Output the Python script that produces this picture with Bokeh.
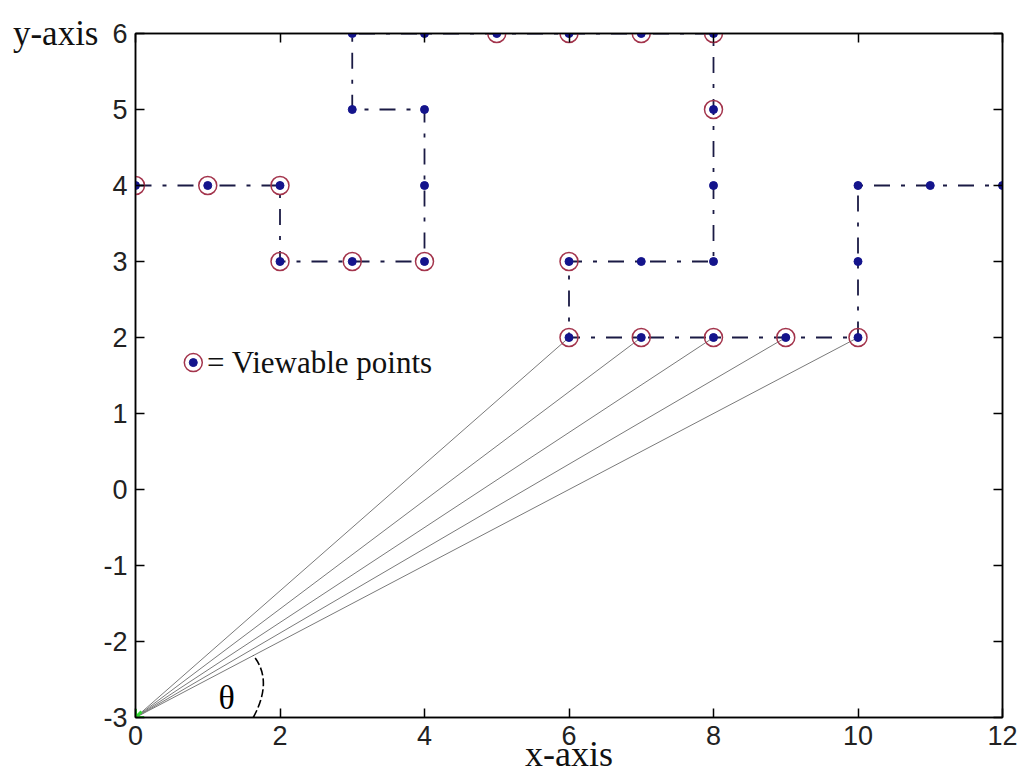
from bokeh.plotting import figure
from bokeh.models import LinearAxis, Label, FixedTicker, Range1d, CustomLabelingPolicy
from bokeh.embed import file_html
from bokeh.resources import INLINE

# ---- data ----
path_x = [0, 1, 2, 2, 3, 4, 4, 4, 3, 3, 4, 5, 6, 7, 8, 8, 8, 8, 7, 6, 6, 7, 8, 9, 10, 10, 10, 11, 12]
path_y = [4, 4, 4, 3, 3, 3, 4, 5, 5, 6, 6, 6, 6, 6, 6, 5, 4, 3, 3, 3, 2, 2, 2, 2, 2, 3, 4, 4, 4]

view_x = [0, 1, 2, 2, 3, 4, 5, 6, 7, 8, 8, 6, 6, 7, 8, 9, 10]
view_y = [4, 4, 4, 3, 3, 3, 6, 6, 6, 6, 5, 3, 2, 2, 2, 2, 2]

observer_x = [0]
observer_y = [-3]

ray_target_x = [6, 7, 8, 9, 10]
ray_target_y = [2, 2, 2, 2, 2]

x_ticks = [0, 2, 4, 6, 8, 10, 12]
y_ticks = [-3, -2, -1, 0, 1, 2, 3, 4, 5, 6]

# ---- styles ----
TICK_FONT = "'Liberation Sans Narrow', 'Liberation Sans', sans-serif"
SERIF = "Liberation Serif"
PATH_COLOR = "#1a1a44"
DOT_COLOR = "#14148c"
RING_COLOR = "#a3344c"

p = figure(width=1018, height=782,
           x_range=Range1d(0, 12), y_range=Range1d(-3, 6),
           output_backend="svg", toolbar_location=None,
           min_border_left=135, min_border_right=15,
           min_border_top=33, min_border_bottom=65,
           background_fill_color="white", border_fill_color="white")
p.grid.visible = False
p.outline_line_color = "black"
p.outline_line_width = 1.5

no_labels = CustomLabelingPolicy(code="return []")

def style_axis(ax, ticks, labels=True):
    ax.ticker = FixedTicker(ticks=ticks)
    ax.axis_line_color = "black"
    ax.axis_line_width = 1.5
    ax.major_tick_in = 9
    ax.major_tick_out = 0
    ax.major_tick_line_color = "black"
    ax.major_tick_line_width = 1.5
    ax.minor_tick_line_color = None
    if labels:
        ax.major_label_text_font = TICK_FONT
        ax.major_label_text_font_size = "27px"
        ax.major_label_text_color = "#222222"
        ax.major_label_standoff = 8
        ax.major_label_overrides = {t: str(t) for t in ticks}
    else:
        ax.major_label_policy = no_labels
        ax.major_label_standoff = 0

bottom = p.below[0]
left = p.left[0]
style_axis(bottom, x_ticks)
style_axis(left, y_ticks)
top = LinearAxis()
right = LinearAxis()
style_axis(top, x_ticks, labels=False)
style_axis(right, y_ticks, labels=False)
p.add_layout(top, "above")
p.add_layout(right, "right")

# axis titles
bottom.axis_label = "x-axis"
bottom.axis_label_text_font = SERIF
bottom.axis_label_text_font_size = "36px"
bottom.axis_label_text_font_style = "normal"
bottom.axis_label_text_color = "#111111"
bottom.axis_label_text_baseline = "top"
bottom.axis_label_standoff = -14

left.axis_label = "y-axis"
left.axis_label_text_font = SERIF
left.axis_label_text_font_size = "35px"
left.axis_label_text_font_style = "normal"
left.axis_label_text_color = "#111111"
left.axis_label_orientation = "horizontal"
left.axis_label_align = "end"
left.axis_label_standoff = 2

# rays from observer
p.segment(x0=[observer_x[0]] * len(ray_target_x), y0=[observer_y[0]] * len(ray_target_y),
          x1=ray_target_x, y1=ray_target_y, line_color="#7a7a7a", line_width=1)

# path
p.line(path_x, path_y, line_color=PATH_COLOR, line_width=1.8, line_dash="16 11 4 11")
p.scatter(path_x, path_y, marker="circle", size=8, fill_color=DOT_COLOR, line_color=DOT_COLOR)

# viewable rings
p.scatter(view_x, view_y, marker="circle", size=18, fill_color=None,
          line_color=RING_COLOR, line_width=1.5)

# observer
p.scatter(observer_x, observer_y, marker="asterisk", size=17, line_color="#2fd82f", line_width=3)

# angle arc
p.quadratic(x0=[1.63], y0=[-3], x1=[1.63], y1=[-2.185], cx=[1.91], cy=[-2.51],
            line_color="black", line_width=1.6, line_dash="8 3")

p.add_layout(Label(x=1.26, y=-2.74, text="θ", text_font=SERIF, text_font_size="34px",
                   text_align="center", text_baseline="middle", text_color="black"))

# legend
p.scatter([0.80], [1.67], marker="circle", size=18, fill_color=None, line_color=RING_COLOR, line_width=1.5)
p.scatter([0.80], [1.67], marker="circle", size=8, fill_color=DOT_COLOR, line_color=DOT_COLOR)
p.add_layout(Label(x=0.99, y=1.67, text="= Viewable points", text_font=SERIF, text_font_size="31px",
                   text_align="left", text_baseline="middle", text_color="#111111"))

open("out.html", "w").write(file_html(p, INLINE))
